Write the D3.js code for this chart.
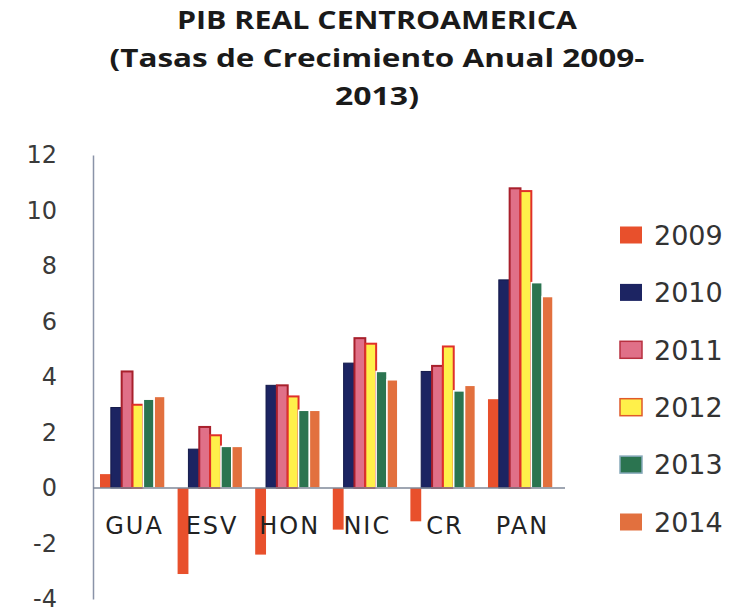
<!DOCTYPE html>
<html>
<head>
<meta charset="utf-8">
<script src="https://cdn.jsdelivr.net/npm/d3@7"></script>
<style>
  body { margin: 0; background: #fff; }
  svg { display: block; }
</style>
</head>
<body>
<svg></svg>
<script>
var width = 745;
var height = 612;

// categorias y series (tasas de crecimiento, %)
var categories = ['GUA', 'ESV', 'HON', 'NIC', 'CR', 'PAN'];
var years = ['2009', '2010', '2011', '2012', '2013', '2014'];
var v2009 = [0.5, -3.1, -2.4, -1.5, -1.2, 3.2];
var v2010 = [2.9, 1.4, 3.7, 4.5, 4.2, 7.5];
var v2011 = [4.2, 2.2, 3.7, 5.4, 4.4, 10.8];
var v2012 = [3.0, 1.9, 3.3, 5.2, 5.1, 10.7];
var v2013 = [3.2, 1.5, 2.8, 4.2, 3.5, 7.4];
var v2014 = [3.3, 1.5, 2.8, 3.9, 3.7, 6.9];
var yTicks = [-4, -2, 0, 2, 4, 6, 8, 10, 12];
var titleLines = ['PIB REAL CENTROAMERICA', '(Tasas de Crecimiento Anual 2009-', '2013)'];

var series = [v2009, v2010, v2011, v2012, v2013, v2014];
var fills = ['#e8502c', '#1c2462', '#e07088', '#fff04a', '#2b7450', '#e2703e'];
var strokes = ['none', '#141a4a', '#a8202c', '#e0302a', '#ffffff', '#ffffff'];
var strokeW = [0, 1, 2, 2, 1.5, 1.5];

var data = [];
categories.forEach(function(c, i) {
  years.forEach(function(y, j) {
    data.push({ cat: c, year: y, idx: j, value: series[j][i] });
  });
});

var svg = d3.select('svg')
  .attr('width', width)
  .attr('height', height);

var yScale = d3.scaleLinear()
  .domain([-4, 12])
  .range([599, 155]);

var xScale = d3.scaleBand()
  .domain(categories)
  .range([100, 553])
  .paddingInner(0.162)
  .paddingOuter(0);

var subScale = d3.scaleBand()
  .domain(years)
  .range([0, xScale.bandwidth()]);

// titulo
var titleY = [29, 67, 105];
var titleLen = [400, 535, 84];
svg.selectAll('text.title')
  .data(titleLines)
  .enter()
  .append('text')
  .classed('title', true)
  .attr('x', 377)
  .attr('y', (d, i) => titleY[i])
  .attr('text-anchor', 'middle')
  .attr('textLength', (d, i) => titleLen[i])
  .attr('lengthAdjust', 'spacingAndGlyphs')
  .style('font-family', '"Open Sans", sans-serif')
  .style('font-weight', 'bold')
  .style('font-size', '25px')
  .style('fill', '#1a1a1a')
  .text(d => d);

// eje y
var yAxis = d3.axisLeft(yScale)
  .tickValues(yTicks)
  .tickFormat(d => String(d))
  .tickSize(0)
  .tickSizeOuter(0)
  .tickPadding(36);

var gy = svg.append('g')
  .attr('transform', 'translate(93,0)')
  .call(yAxis);

gy.select('.domain')
  .attr('stroke', '#8a93a8')
  .attr('stroke-width', 1.5);

gy.selectAll('text')
  .style('font-family', '"DejaVu Sans", sans-serif')
  .style('font-size', '24px')
  .style('fill', '#3a3a3a');

// barras
svg.append('g')
  .selectAll('rect')
  .data(data)
  .enter()
  .append('rect')
  .attr('x', d => xScale(d.cat) + subScale(d.year))
  .attr('y', d => yScale(Math.max(0, d.value)))
  .attr('width', subScale.bandwidth())
  .attr('height', d => Math.abs(yScale(d.value) - yScale(0)))
  .attr('fill', d => fills[d.idx])
  .attr('stroke', d => strokes[d.idx])
  .attr('stroke-width', d => strokeW[d.idx]);

// linea del cero
svg.append('line')
  .attr('x1', 93)
  .attr('x2', 565)
  .attr('y1', yScale(0))
  .attr('y2', yScale(0))
  .attr('stroke', '#7f8898')
  .attr('stroke-width', 1.5);

// etiquetas de paises
var xAxis = d3.axisBottom(xScale)
  .tickSize(0)
  .tickSizeOuter(0)
  .tickPadding(29);

var gx = svg.append('g')
  .attr('transform', 'translate(2,' + yScale(0) + ')')
  .call(xAxis);

gx.select('.domain').remove();

gx.selectAll('text')
  .style('font-family', '"DejaVu Sans", sans-serif')
  .style('font-size', '24px')
  .style('letter-spacing', '2px')
  .style('fill', '#222');

// leyenda
var legend = svg.append('g')
  .selectAll('g')
  .data(years)
  .enter()
  .append('g')
  .attr('transform', (d, i) => 'translate(620,' + (235 + i * 57.4) + ')');

legend.append('rect')
  .attr('x', 0)
  .attr('y', -8.5)
  .attr('width', 22)
  .attr('height', 17)
  .attr('fill', (d, i) => fills[i])
  .attr('stroke', (d, i) => i == 2 ? '#b83040' : i == 3 ? '#e05a2a' : i == 4 ? '#8ab' : 'none')
  .attr('stroke-width', 1.5);

legend.append('text')
  .attr('x', 34)
  .attr('y', 0)
  .attr('dy', '0.36em')
  .style('font-family', '"DejaVu Sans", sans-serif')
  .style('font-size', '27px')
  .style('fill', '#333')
  .text(d => d);
</script>
</body>
</html>
